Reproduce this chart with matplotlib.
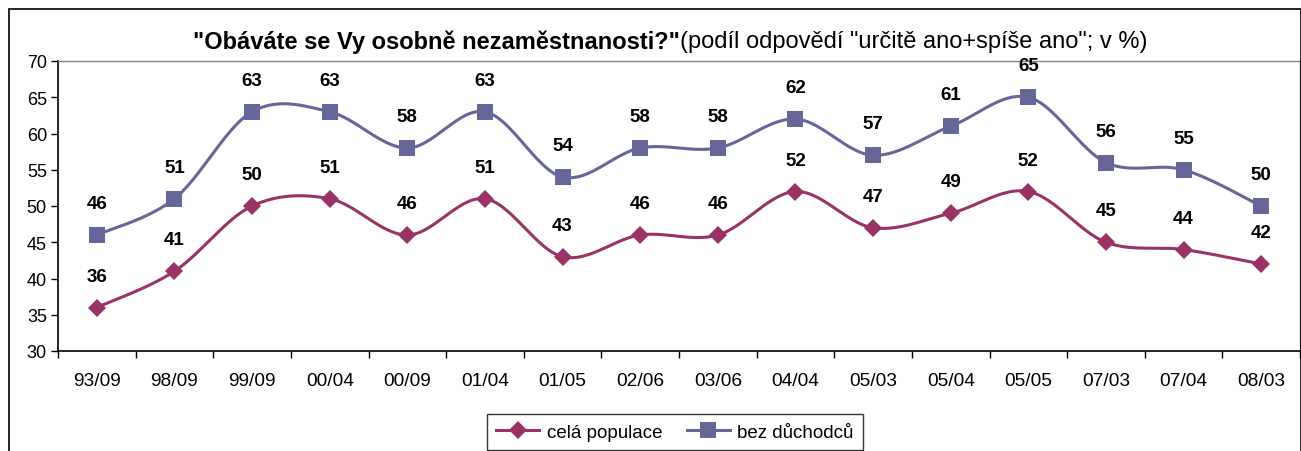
import matplotlib
matplotlib.use("Agg")
import matplotlib.pyplot as plt
import numpy as np
from matplotlib.patches import Rectangle
from matplotlib.lines import Line2D

plt.rcParams["font.family"] = ["Liberation Sans", "DejaVu Sans"]

categories = ["93/09", "98/09", "99/09", "00/04", "00/09", "01/04", "01/05", "02/06",
              "03/06", "04/04", "05/03", "05/04", "05/05", "07/03", "07/04", "08/03"]
cela = [36, 41, 50, 51, 46, 51, 43, 46, 46, 52, 47, 49, 52, 45, 44, 42]
bez = [46, 51, 63, 63, 58, 63, 54, 58, 58, 62, 57, 61, 65, 56, 55, 50]

PINK = "#993366"
BLUE = "#666699"


def smooth(y, n=30):
    # Catmull-Rom curve through the points (Excel-like smoothed line)
    y = np.asarray(y, dtype=float)
    x = np.arange(len(y), dtype=float)
    px = np.concatenate([[x[0]], x, [x[-1]]])
    py = np.concatenate([[y[0]], y, [y[-1]]])
    xs, ys = [], []
    t = np.linspace(0, 1, n, endpoint=False)
    for i in range(1, len(px) - 2):
        for arr, out in ((px, xs), (py, ys)):
            p0, p1, p2, p3 = arr[i - 1], arr[i], arr[i + 1], arr[i + 2]
            m1 = (p2 - p0) / 2
            m2 = (p3 - p1) / 2
            h00 = 2 * t**3 - 3 * t**2 + 1
            h10 = t**3 - 2 * t**2 + t
            h01 = -2 * t**3 + 3 * t**2
            h11 = t**3 - t**2
            out.extend(h00 * p1 + h10 * m1 + h01 * p2 + h11 * m2)
    xs.append(x[-1])
    ys.append(y[-1])
    return np.array(xs), np.array(ys)


fig = plt.figure(figsize=(13.01, 4.52), dpi=100)
ax = fig.add_axes([58 / 1301, 100 / 452, 1242 / 1301, 290 / 452])

# outer chart border
fig.patches.append(Rectangle((8.5 / 1301, -0.1), 1292 / 1301, 1.1 - 10 / 452,
                             transform=fig.transFigure, fill=False,
                             edgecolor="black", linewidth=1.2, zorder=0))

x = np.arange(len(categories))
for vals, color, marker, ms in [(cela, PINK, "D", 9.6), (bez, BLUE, "s", 11.5)]:
    sx, sy = smooth(vals)
    ax.plot(sx, sy, color=color, linewidth=2.2, solid_capstyle="round", zorder=2)
    ax.plot(x, vals, linestyle="none", marker=marker, markersize=ms,
            color=color, markeredgewidth=0, zorder=3)
    for xi, v in zip(x, vals):
        ax.annotate(str(v), (xi, v), xytext=(0, 22.5), textcoords="offset points",
                    ha="center", va="center", fontsize=13.5, fontweight="bold")

ax.set_xlim(-0.5, len(categories) - 0.5)
ax.set_ylim(30, 70)
ax.set_yticks(np.arange(30, 71, 5))
ax.tick_params(axis="y", labelsize=13, length=5, width=1, pad=3)
ax.set_xticks(x)
ax.set_xticklabels(categories, fontsize=13.8)
ax.set_xticks(np.arange(-0.5, len(categories)), minor=True)
ax.tick_params(axis="x", which="major", length=0, pad=15)
ax.tick_params(axis="x", which="minor", length=5, width=1)
for side in ("top", "right"):
    ax.spines[side].set_color("#808080")
    ax.spines[side].set_linewidth(1)
for side in ("left", "bottom"):
    ax.spines[side].set_color("black")
    ax.spines[side].set_linewidth(1.2)

# title: bold question followed by normal note
fig.canvas.draw()
renderer = fig.canvas.get_renderer()
t1 = fig.text(0, 0.907, '"Obáváte se Vy osobně nezaměstnanosti?"', fontsize=17,
              fontweight="bold", va="center", ha="left")
t2 = fig.text(0, 0.907, '(podíl odpovědí "určitě ano+spíše ano"; v %)', fontsize=17,
              va="center", ha="left")
w1 = t1.get_window_extent(renderer).width
w2 = t2.get_window_extent(renderer).width
start = 670 - (w1 + w2) / 2
t1.set_x(start / 1301)
t2.set_x((start + w1) / 1301)

handles = [
    Line2D([], [], color=PINK, marker="D", markersize=9.6, markeredgewidth=0, linewidth=2.2),
    Line2D([], [], color=BLUE, marker="s", markersize=11.5, markeredgewidth=0, linewidth=2.2),
]
leg = fig.legend(handles, ["celá populace", "bez důchodců"], loc="upper center",
                 bbox_to_anchor=(675 / 1301, 1 - 406 / 452), ncol=2, fontsize=13.5,
                 frameon=True, fancybox=False, edgecolor="black", handlelength=2.3,
                 columnspacing=1.3, borderpad=0.5, handletextpad=0.4)
leg.get_frame().set_linewidth(1)

fig.savefig("out.png", dpi=100)
